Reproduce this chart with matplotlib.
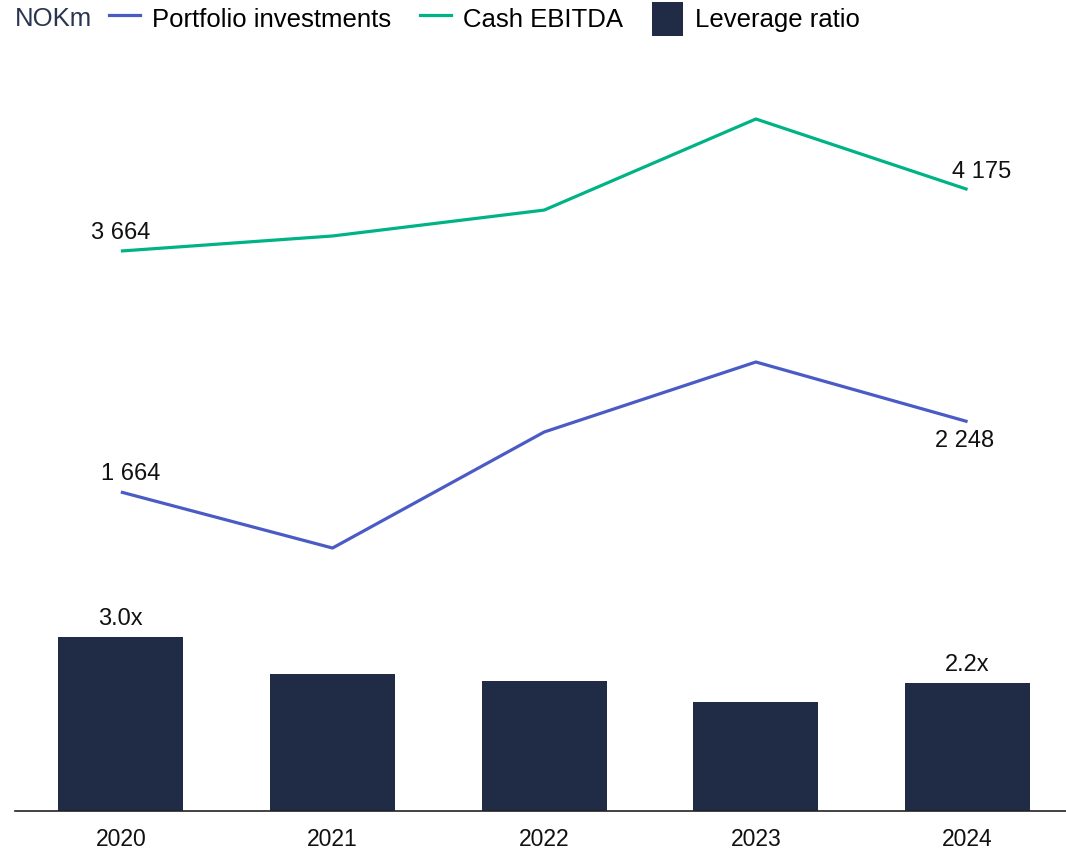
import matplotlib
matplotlib.use("Agg")
import matplotlib.pyplot as plt
from matplotlib.lines import Line2D
from matplotlib.patches import Patch

years = ["2020", "2021", "2022", "2023", "2024"]
leverage = [3.0, 2.36, 2.25, 1.88, 2.2]
cash_ebitda = [3664, 3789, 4004, 4760, 4175]
portfolio = [1664, 1199, 2162, 2743, 2248]

BAR_C = "#202B45"
BLUE = "#4B5BC6"
GREEN = "#00B386"
TXT = "#111111"

plt.rcParams["font.family"] = ["Liberation Sans", "DejaVu Sans"]
FS = 16.5
FSD = 17
FSL = 18.5

W, H = 1066, 851
fig = plt.figure(figsize=(W / 100, H / 100), dpi=100)
left, right, top, bottom = 15, 1066, 100, 811
ax = fig.add_axes([left / W, (H - bottom) / H, (right - left) / W, (bottom - top) / H])
x = list(range(len(years)))
ax.bar(x, leverage, width=0.59, color=BAR_C, zorder=2)
ax.set_xlim(-0.5, 4.465)
ax.set_ylim(0, (bottom - top) / 58.0)
for s in ["top", "right", "left"]:
    ax.spines[s].set_visible(False)
ax.spines["bottom"].set_color("#222222")
ax.spines["bottom"].set_linewidth(1.2)
ax.set_yticks([])
ax.set_xticks(x)
ax.set_xticklabels(years, fontsize=FS, color=TXT)
ax.tick_params(axis="x", length=0, pad=12)

for i in [0, 4]:
    ax.annotate(f"{leverage[i]:.1f}x", (x[i], leverage[i]), xytext=(0, 5),
                textcoords="offset points", ha="center", va="bottom", fontsize=FSD, color=TXT)

ax2 = ax.twinx()
ax2.set_xlim(-0.5, 4.465)
per_px = 8.3
ymin = 1664 - (bottom - 492) * per_px
ymax = 1664 + (492 - top) * per_px
ax2.set_ylim(ymin, ymax)
ax2.axis("off")
ax2.plot(x, portfolio, color=BLUE, lw=2.3, solid_capstyle="butt")
ax2.plot(x, cash_ebitda, color=GREEN, lw=2.3, solid_capstyle="butt")

def fmt(v):
    return f"{v:,}".replace(",", " ")

ax2.annotate(fmt(cash_ebitda[0]), (x[0], cash_ebitda[0]), xytext=(0, 5), textcoords="offset points",
             ha="center", va="bottom", fontsize=FSD, color=TXT)
ax2.annotate(fmt(cash_ebitda[4]), (x[4], cash_ebitda[4]), xytext=(10, 5), textcoords="offset points",
             ha="center", va="bottom", fontsize=FSD, color=TXT)
ax2.annotate(fmt(portfolio[0]), (x[0], portfolio[0]), xytext=(7, 5), textcoords="offset points",
             ha="center", va="bottom", fontsize=FSD, color=TXT)
ax2.annotate(fmt(portfolio[4]), (x[4], portfolio[4]), xytext=(-2, -6), textcoords="offset points",
             ha="center", va="top", fontsize=FSD, color=TXT)

fig.text(15 / W, 1 - 19 / H, "NOKm", fontsize=FSL, color="#2B3550", va="center", ha="left")
handles = [Line2D([], [], color=BLUE, lw=2.3),
           Line2D([], [], color=GREEN, lw=2.3),
           Patch(facecolor=BAR_C)]
labels = ["Portfolio investments", "Cash EBITDA", "Leverage ratio"]
fig.legend(handles, labels, loc="center left", bbox_to_anchor=(109 / W, 1 - 19 / H), ncol=3,
           frameon=False, fontsize=FSL, handlelength=1.2, handleheight=1.6,
           handletextpad=0.47, columnspacing=1.13, borderaxespad=0, borderpad=0)

fig.savefig("out.png", dpi=100)
